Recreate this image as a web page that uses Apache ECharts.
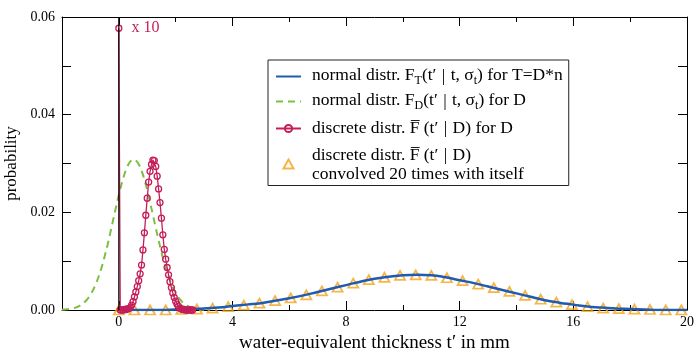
<!DOCTYPE html>
<html>
<head>
<meta charset="utf-8">
<script src="https://cdn.jsdelivr.net/npm/echarts@6/dist/echarts.min.js"></script>
<style>
html,body{margin:0;padding:0;background:#fff;}
#chart{width:697px;height:349px;}
</style>
</head>
<body>
<div id="chart"></div>
<script>
// ---- data ----
const normalTX = [0,0.5,1,1.5,2,2.5,3,3.5,4,4.5,5,5.5,6,6.5,7,7.5,8,8.5,9,9.5,10,10.5,11,11.5,12,12.5,13,13.5,14,14.5,15,15.5,16,16.5,17,17.5,18,18.5,19,19.5,20];
const normalTY = [0,0,0,0,0.0001,0.0002,0.0003,0.0005,0.0008,0.0011,0.0014,0.0019,0.0024,0.0030,0.0037,0.0044,0.0051,0.0058,0.0064,0.0068,0.0071,0.0072,0.0071,0.0067,0.0061,0.0055,0.0048,0.0041,0.0034,0.0027,0.0020,0.0015,0.0011,0.0007,0.0005,0.0003,0.0002,0.0001,0,0,0];

const normalDX = [-2,-1.9,-1.8,-1.7,-1.6,-1.5,-1.4,-1.3,-1.2,-1.1,-1,-0.9,-0.8,-0.7,-0.6,-0.5,-0.4,-0.3,-0.2,-0.1,0,0.1,0.2,0.3,0.4,0.5,0.6,0.7,0.8,0.9,1,1.1,1.2,1.3,1.4,1.5,1.6,1.7,1.8,1.9,2,2.1,2.2,2.3,2.4,2.5,2.6,2.7,2.8,2.9,3];
const normalDY = [0.00006,0.00009,0.00015,0.00023,0.00036,0.00054,0.0008,0.00116,0.00163,0.00228,0.0031,0.00417,0.00546,0.00702,0.00883,0.01097,0.01326,0.0158,0.01843,0.02104,0.02356,0.02585,0.02784,0.02936,0.03036,0.0308,0.0306,0.02984,0.02852,0.0267,0.02452,0.02206,0.01946,0.01684,0.01429,0.01189,0.0097,0.00775,0.0061,0.00468,0.00351,0.00258,0.00187,0.00133,0.00093,0.00063,0.00043,0.00028,0.00018,0.00011,0.00007];

const discreteX = [0,0.05,0.1,0.15,0.2,0.25,0.3,0.35,0.4,0.45,0.5,0.55,0.6,0.65,0.7,0.75,0.8,0.85,0.9,0.95,1,1.05,1.1,1.15,1.2,1.25,1.3,1.35,1.4,1.45,1.5,1.55,1.6,1.65,1.7,1.75,1.8,1.85,1.9,1.95,2,2.05,2.1,2.15,2.2,2.25,2.3,2.35,2.4,2.45,2.5,2.55,2.6];
const discreteY = [0.0577,0,0,0,0.0001,0.0001,0.0002,0.0003,0.0005,0.0010,0.0017,0.0027,0.0037,0.0048,0.0060,0.0074,0.0092,0.0123,0.0158,0.0194,0.0229,0.0262,0.0284,0.0298,0.0307,0.0306,0.0294,0.0274,0.0248,0.0220,0.0188,0.0154,0.0124,0.0104,0.0087,0.0072,0.0058,0.0046,0.0035,0.0026,0.0018,0.0012,0.0007,0.0004,0.0002,0.0001,0.0001,0,0,0,0,0,0];

const convX = [0,0.55,1.1,1.65,2.2,2.75,3.3,3.85,4.4,4.95,5.5,6.05,6.6,7.15,7.7,8.25,8.8,9.35,9.9,10.45,11,11.55,12.1,12.65,13.2,13.75,14.3,14.85,15.4,15.95,16.5,17.05,17.6,18.15,18.7,19.25,19.8];
const convY = [0,0,0,0,0.0001,0.0002,0.0004,0.0007,0.0010,0.0014,0.0019,0.0025,0.0031,0.0039,0.0047,0.0055,0.0062,0.0067,0.0071,0.0072,0.0071,0.0066,0.0060,0.0053,0.0046,0.0038,0.0030,0.0022,0.0016,0.0011,0.0007,0.0004,0.0003,0.0002,0.0001,0,0];

const xLabelValues = [0,4,8,12,16,20];
const xMinorValues = [-2,2,6,10,14,18];
const yLabelValues = [0,0.02,0.04,0.06];

const zeroLineX = [0,0];
const zeroLineY = [0,0.06];

// ---- chart ----
const FONT = "'Liberation Serif','Times New Roman',serif";
const RED = '#c41e5a', BLUE = '#1f5bb0', GREEN = '#7cc043', ORANGE = '#f5a31a';
const zip = (a, b) => a.map((v, i) => [v, b[i]]);

const names = {
  T: 'normal T', D: 'normal D', disc: 'discrete D', conv: 'convolved'
};
const legendText = {};
legendText[names.T] = '{n|normal distr. F}{sub|T}{n|(t\u2032 }{bar||}{n| t, \u03c3}{sub|t}{n|) for T=D*n}';
legendText[names.D] = '{n|normal distr. F}{sub|D}{n|(t\u2032 }{bar||}{n| t, \u03c3}{sub|t}{n|) for D}';
legendText[names.disc] = '{o|discrete distr. F\u0305 (t\u2032 }{bar||}{o| D) for D}';
legendText[names.conv] = '{m|discrete distr. F\u0305 (t\u2032 }{bar||}{m| D)}\nconvolved 20 times with itself';

const discData = zip(discreteX, discreteY).map((p, i) => i === 0 ? {
  value: p,
  label: { show: true, position: 'right', distance: 9, formatter: 'x 10', color: RED, fontFamily: FONT, fontSize: 16 }
} : p);

const axisLineStyle = { onZero: false, lineStyle: { color: '#000', width: 1 } };
const noLine = { show: false, onZero: false };
const LF = 17.5;

const option = {
  animation: false,
  backgroundColor: '#fff',
  grid: { left: 62, right: 10, top: 17, bottom: 39, containLabel: false, outerBoundsMode: 'none' },
  xAxis: [
    {
      type: 'value', min: -2, max: 20, interval: 2, position: 'bottom',
      axisLine: axisLineStyle,
      axisTick: { inside: true, length: 9, customValues: xLabelValues, lineStyle: { color: '#000' } },
      axisLabel: { customValues: xLabelValues, color: '#000', fontFamily: FONT, fontSize: 14, margin: 5 },
      splitLine: { show: false },
      name: 'water-equivalent thickness t\u2032 in mm', nameLocation: 'middle', nameGap: 16,
      nameTextStyle: { color: '#000', fontFamily: FONT, fontSize: 19 }
    },
    {
      type: 'value', min: -2, max: 20, interval: 2, position: 'bottom',
      axisLine: noLine,
      axisTick: { inside: true, length: 5, customValues: xMinorValues, lineStyle: { color: '#000' } },
      axisLabel: { show: false }, splitLine: { show: false }
    },
    {
      type: 'value', min: -2, max: 20, interval: 2, position: 'top',
      axisLine: axisLineStyle,
      axisTick: { inside: true, length: 9, customValues: xLabelValues, lineStyle: { color: '#000' } },
      axisLabel: { show: false }, splitLine: { show: false }
    },
    {
      type: 'value', min: -2, max: 20, interval: 2, position: 'top',
      axisLine: noLine,
      axisTick: { inside: true, length: 5, customValues: xMinorValues, lineStyle: { color: '#000' } },
      axisLabel: { show: false }, splitLine: { show: false }
    }
  ],
  yAxis: [
    {
      type: 'value', min: 0, max: 0.06, interval: 0.01, position: 'left',
      axisLine: axisLineStyle,
      axisTick: { inside: true, length: 9, lineStyle: { color: '#000' } },
      axisLabel: { customValues: yLabelValues, formatter: v => v.toFixed(2), color: '#000', fontFamily: FONT, fontSize: 14, margin: 7 },
      splitLine: { show: false },
      name: 'probability', nameLocation: 'middle', nameGap: 36,
      nameTextStyle: { color: '#000', fontFamily: FONT, fontSize: 17 }
    },
    {
      type: 'value', min: 0, max: 0.06, interval: 0.01, position: 'right',
      axisLine: axisLineStyle,
      axisTick: { inside: true, length: 9, lineStyle: { color: '#000' } },
      axisLabel: { show: false }, splitLine: { show: false }
    }
  ],
  legend: {
    orient: 'vertical', left: 268, top: 60,
    data: [
      { name: names.T, itemStyle: { opacity: 0 } },
      { name: names.D, itemStyle: { opacity: 0 } },
      { name: names.disc },
      { name: names.conv, icon: 'path://M5,0L10,9L0,9Z' }
    ],
    borderColor: '#222', borderWidth: 1, borderRadius: 0,
    padding: [6, 6, 2, 7],
    itemWidth: 25, itemHeight: 9, itemGap: 4,
    symbolKeepAspect: true,
    formatter: n => legendText[n],
    textStyle: {
      color: '#000', fontFamily: FONT, fontSize: LF, lineHeight: 17, padding: [0, 0, 0, 6],
      rich: {
        n: { fontFamily: FONT, fontSize: LF, lineHeight: 17, verticalAlign: 'top', color: '#000' },
        sub: { fontFamily: FONT, fontSize: 12, lineHeight: 21, verticalAlign: 'bottom', color: '#000' },
        bar: { fontFamily: FONT, fontSize: LF, lineHeight: 17, color: '#000', padding: [0, 1, 0, 1] },
        o: { fontFamily: FONT, fontSize: LF, lineHeight: 25, verticalAlign: 'middle', color: '#000' },
        m: { fontFamily: FONT, fontSize: LF, lineHeight: 21, verticalAlign: 'middle', color: '#000' }
      }
    }
  },
  series: [
    {
      name: names.D, type: 'line', data: zip(normalDX, normalDY), showSymbol: false, symbol: 'none',
      smooth: true, lineStyle: { color: GREEN, width: 2, type: [7, 5] }, itemStyle: { color: GREEN }
    },
    {
      name: names.conv, type: 'scatter', data: zip(convX, convY), symbol: 'triangle', symbolSize: [10, 9],
      itemStyle: { color: 'rgba(255,255,255,0)', borderColor: ORANGE, borderWidth: 1.8 }
    },
    {
      name: names.T, type: 'line', data: zip(normalTX, normalTY), showSymbol: false, symbol: 'none',
      smooth: true, lineStyle: { color: BLUE, width: 2.5 }, itemStyle: { color: BLUE }
    },
    {
      name: names.disc, type: 'line', data: discData, symbol: 'circle', symbolSize: 6, showAllSymbol: true,
      lineStyle: { color: RED, width: 1.3 },
      itemStyle: { color: 'rgba(255,255,255,0)', borderColor: RED, borderWidth: 1.3 }
    },
    {
      name: 'zero', type: 'line', data: zip(zeroLineX, zeroLineY), symbol: 'none', silent: true,
      lineStyle: { color: '#000', width: 1.2 }, z: 5
    }
  ]
};

const chart = echarts.init(document.getElementById('chart'), null, { renderer: 'canvas' });
chart.setOption(option);
</script>
</body>
</html>
